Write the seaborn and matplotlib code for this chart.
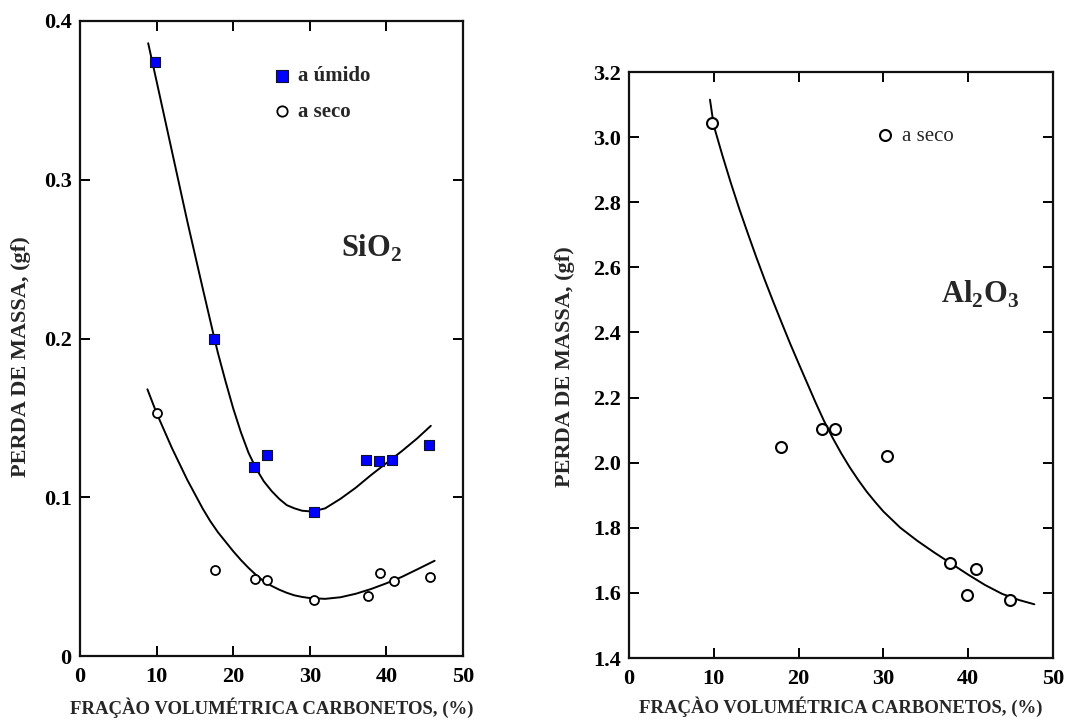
import matplotlib
matplotlib.use("Agg")
import matplotlib.pyplot as plt
import seaborn as sns
import pandas as pd

# ---- SiO2 panel: measured points ----
sio2_umido_x = [9.8, 17.5, 22.7, 24.45, 30.5, 37.4, 39.0, 40.7, 45.5]
sio2_umido_y = [0.374, 0.200, 0.119, 0.1265, 0.0906, 0.1233, 0.1229, 0.1233, 0.133]
sio2_seco_x = [10.0, 17.6, 22.9, 24.4, 30.5, 37.6, 39.2, 41.0, 45.7]
sio2_seco_y = [0.153, 0.0542, 0.0485, 0.0479, 0.0353, 0.038, 0.052, 0.0474, 0.050]

# ---- SiO2 panel: fitted trend curves ----
sio2_umido_fit_x = [8.9, 10, 12, 14, 16, 17.5, 18, 19, 20, 21, 22, 23, 24, 25, 26, 27, 28, 29,
                    30.3, 32, 34, 36, 38, 40, 42, 44, 45.8]
sio2_umido_fit_y = [0.386, 0.362, 0.318, 0.274, 0.232, 0.201, 0.191, 0.173, 0.156, 0.141, 0.128,
                    0.118, 0.110, 0.104, 0.099, 0.095, 0.093, 0.0915, 0.091, 0.093, 0.099, 0.106,
                    0.114, 0.1215, 0.129, 0.137, 0.145]
sio2_seco_fit_x = [8.8, 10, 11, 12, 13, 14, 15, 16, 17, 18, 19, 20, 21, 22, 23, 24, 25, 26, 27, 28,
                   29, 30, 32, 34, 36, 38, 40, 42, 44, 46.3]
sio2_seco_fit_y = [0.168, 0.153, 0.142, 0.131, 0.121, 0.111, 0.102, 0.093, 0.085, 0.078, 0.072,
                   0.066, 0.0605, 0.0555, 0.051, 0.047, 0.0442, 0.0418, 0.0398, 0.0382, 0.0372,
                   0.0365, 0.036, 0.037, 0.0392, 0.0422, 0.0458, 0.0498, 0.0545, 0.0600]

# ---- Al2O3 panel ----
al2o3_seco_x = [9.8, 17.9, 22.8, 24.3, 30.4, 37.9, 39.9, 40.9, 44.9]
al2o3_seco_y = [3.044, 2.047, 2.102, 2.102, 2.022, 1.691, 1.593, 1.672, 1.578]
al2o3_fit_x = [9.55, 10, 11, 12, 13, 14, 15, 16, 17, 18, 19, 20, 21, 22, 23, 24, 25, 26, 27, 28,
               29, 30, 32, 34, 36, 38, 40, 42, 44, 46, 47.8]
al2o3_fit_y = [3.115, 3.035, 2.945, 2.86, 2.78, 2.705, 2.632, 2.562, 2.495, 2.43, 2.366, 2.305,
               2.245, 2.185, 2.128, 2.077, 2.03, 1.987, 1.948, 1.912, 1.88, 1.85, 1.80, 1.76,
               1.724, 1.69, 1.656, 1.624, 1.597, 1.578, 1.565]

# ---- axis text ----
x_ticks = [0, 10, 20, 30, 40, 50]
x_tick_labels = ["0", "10", "20", "30", "40", "50"]
sio2_y_ticks = [0.0, 0.1, 0.2, 0.3, 0.4]
sio2_y_tick_labels = ["0", "0.1", "0.2", "0.3", "0.4"]
al2o3_y_ticks = [1.4, 1.6, 1.8, 2.0, 2.2, 2.4, 2.6, 2.8, 3.0, 3.2]
al2o3_y_tick_labels = ["1.4", "1.6", "1.8", "2.0", "2.2", "2.4", "2.6", "2.8", "3.0", "3.2"]
x_title = "FRAÇÀO VOLUMÉTRICA CARBONETOS, (%)"
y_title = "PERDA DE MASSA, (gf)"
label_umido = "a úmido"
label_seco = "a seco"

sns.set_style("ticks")
plt.rcParams["font.family"] = ["Liberation Serif", "DejaVu Serif"]
plt.rcParams["font.weight"] = "bold"

fig = plt.figure(figsize=(10.72, 7.2), dpi=100)
ax1 = fig.add_axes([80 / 1072, 64 / 720, 383 / 1072, 635 / 720])
ax2 = fig.add_axes([629 / 1072, 62 / 720, 424 / 1072, 586 / 720])

df_um = pd.DataFrame({"x": sio2_umido_x, "y": sio2_umido_y})
df_se = pd.DataFrame({"x": sio2_seco_x, "y": sio2_seco_y})
df_um_fit = pd.DataFrame({"x": sio2_umido_fit_x, "y": sio2_umido_fit_y})
df_se_fit = pd.DataFrame({"x": sio2_seco_fit_x, "y": sio2_seco_fit_y})
df_al = pd.DataFrame({"x": al2o3_seco_x, "y": al2o3_seco_y})
df_al_fit = pd.DataFrame({"x": al2o3_fit_x, "y": al2o3_fit_y})

line_kw = dict(color="black", linewidth=1.4, sort=False, estimator=None)
sns.lineplot(data=df_um_fit, x="x", y="y", ax=ax1, **line_kw)
sns.lineplot(data=df_se_fit, x="x", y="y", ax=ax1, **line_kw)
sns.lineplot(data=df_al_fit, x="x", y="y", ax=ax2, **line_kw)

sns.scatterplot(data=df_um, x="x", y="y", ax=ax1, marker="s", s=58,
                color="#0000ff", edgecolor="#101030", linewidth=0.8,
                label=label_umido, zorder=5)
sns.scatterplot(data=df_se, x="x", y="y", ax=ax1, marker="o", s=42,
                facecolor="white", edgecolor="black", linewidth=1.3,
                label=label_seco, zorder=5)
sns.scatterplot(data=df_al, x="x", y="y", ax=ax2, marker="o", s=62,
                facecolor="white", edgecolor="black", linewidth=1.5,
                label=label_seco, zorder=5)

panels = [
    (ax1, sio2_y_ticks, sio2_y_tick_labels, (0, 0.4), 0.471),
    (ax2, al2o3_y_ticks, al2o3_y_tick_labels, (1.4, 3.2), 0.497),
]
for ax, yt, ytl, ylim, ylab_pos in panels:
    ax.set_xlim(0, 50)
    ax.set_ylim(*ylim)
    ax.set_xticks(x_ticks)
    ax.set_xticklabels(x_tick_labels)
    ax.set_yticks(yt)
    ax.set_yticklabels(ytl)
    ax.tick_params(direction="in", length=7, width=1.4, top=True, right=True,
                   labelsize=16, colors="black", pad=6)
    ax.tick_params(axis="x", pad=8)
    for side in ["left", "right", "top", "bottom"]:
        ax.spines[side].set_visible(True)
        ax.spines[side].set_linewidth(1.6)
        ax.spines[side].set_color("#111111")
    ax.set_xlabel(x_title, fontsize=13.5, fontweight="bold")
    ax.set_ylabel(y_title, fontsize=16, fontweight="bold")
    ax.xaxis.set_label_coords(0.5, -0.066)
    ax.yaxis.set_label_coords(-0.128, ylab_pos)
    ax.grid(False)

ax1.legend(loc="upper left", bbox_to_anchor=(0.482, 0.945), frameon=False,
           handlelength=0.7, handletextpad=0.4, labelspacing=0.75, markerscale=1.15,
           borderpad=0, prop={"family": "Liberation Serif", "weight": "bold", "size": 15})
ax2.legend(loc="upper left", bbox_to_anchor=(0.562, 0.925), frameon=False,
           handlelength=0.7, handletextpad=0.45, borderpad=0,
           prop={"family": "Liberation Serif", "weight": "normal", "size": 15})

ax1.text(38.1, 0.257, "SiO$_\\mathregular{2}$", fontsize=22, fontweight="bold",
         ha="center", va="center")
ax2.text(41.4, 2.516, "Al$_\\mathregular{2}$O$_\\mathregular{3}$", fontsize=22,
         fontweight="bold", ha="center", va="center")

fig.savefig("out.png", dpi=100, facecolor="white")
